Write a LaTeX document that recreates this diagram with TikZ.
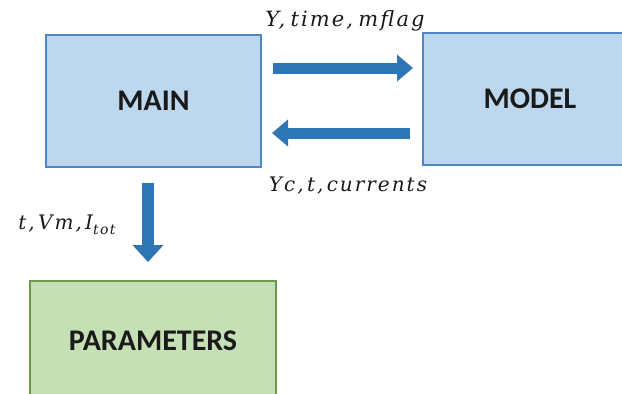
\documentclass[tikz,border=0pt]{standalone}
\usepackage{fontspec}
\setsansfont{Carlito}
\newfontfamily\labfont{DejaVu Serif}[LetterSpace=10]
\usetikzlibrary{arrows.meta}
\definecolor{boxblue}{HTML}{BDD7EE}
\definecolor{edgeblue}{HTML}{4F87C6}
\definecolor{arrowblue}{HTML}{2E75B6}
\definecolor{boxgreen}{HTML}{C5E0B4}
\definecolor{edgegreen}{HTML}{6A9A4C}
\definecolor{txt}{HTML}{1A1A1A}
\newcommand{\sbs}[1]{\raisebox{-0.28em}{\fontsize{14}{14}\selectfont #1}}
\tikzset{
  bluebox/.style={draw=edgeblue, fill=boxblue, line width=1.5pt, inner sep=0pt,
    text=txt, font=\sffamily\bfseries\fontsize{30}{34}\selectfont},
  greenbox/.style={draw=edgegreen, fill=boxgreen, line width=1.5pt, inner sep=0pt,
    text=txt, font=\sffamily\bfseries\fontsize{30}{34}\selectfont},
  bigarrow/.style={draw=arrowblue, line width=11pt,
    -{Triangle[length=16pt, width=26pt]}},
  downarrow/.style={draw=arrowblue, line width=12pt,
    -{Triangle[length=17pt, width=30pt]}},
  lbl/.style={inner sep=0pt, text=txt, font=\labfont\itshape\fontsize{20}{24}\selectfont}
}
\begin{document}
\begin{tikzpicture}[x=1pt,y=-1pt]
\useasboundingbox (0,0) rectangle (622,394);
\node[bluebox, minimum width=215pt, minimum height=132pt] (main) at (153.5,101) {MAIN};
\node[bluebox, minimum width=214pt, minimum height=132pt] (model) at (530,99) {\raisebox{-4pt}{MODEL}};
\node[greenbox, minimum width=246pt, minimum height=120pt] (params) at (153,341) {PARAMETERS};
\coordinate (r1) at (273,68);
\coordinate (r2) at (413,68);
\coordinate (l1) at (410,133);
\coordinate (l2) at (272,133);
\coordinate (d1) at (148,183);
\coordinate (d2) at (148,262);
\draw[bigarrow] (r1) -- (r2);
\draw[bigarrow] (l1) -- (l2);
\draw[downarrow] (d1) -- (d2);
\node[lbl, font=\labfont\itshape\fontsize{21}{24}\selectfont] (lab1) at (345,21) {Y,\hspace{0.25em}time,\hspace{0.25em}mflag};
\node[lbl] (lab2) at (348,186) {Yc,\,t,\,currents};
\node[lbl] (lab3) at (67,225) {t,\,Vm,\,I\sbs{tot}};
\end{tikzpicture}
\end{document}
